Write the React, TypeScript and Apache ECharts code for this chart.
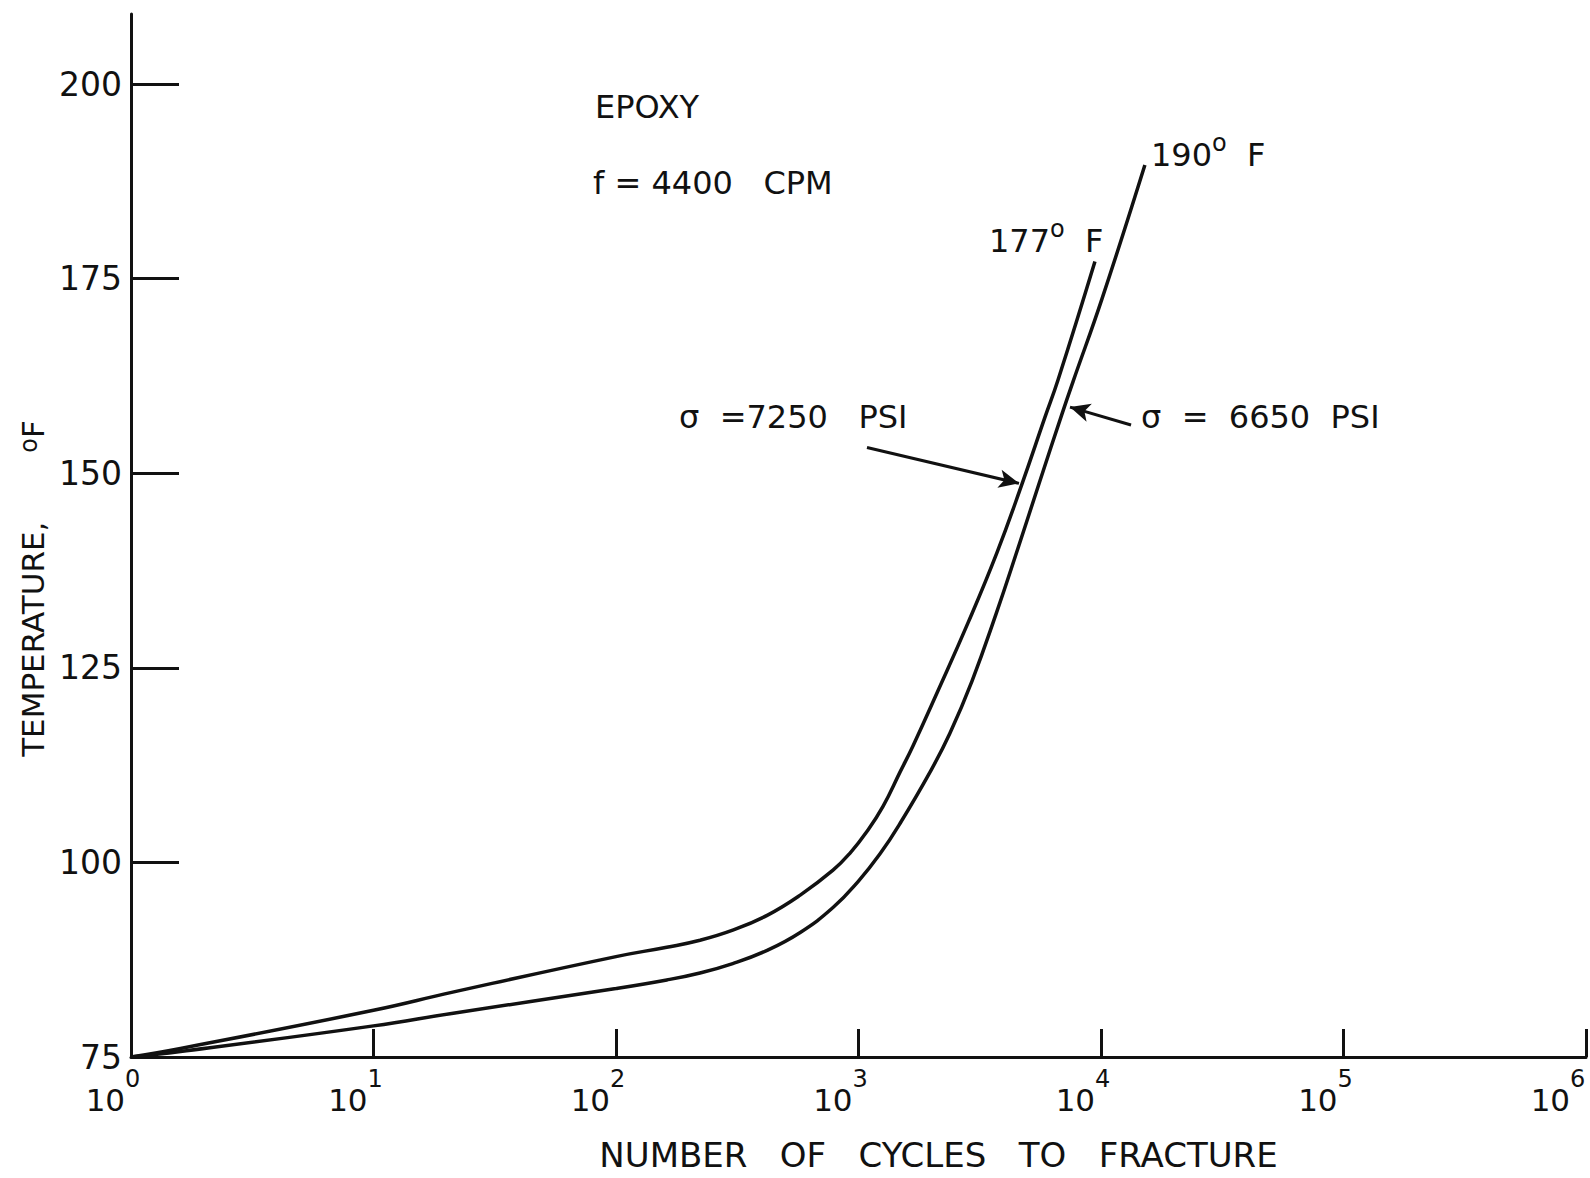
import React, { useEffect, useRef } from "react";
import * as echarts from "echarts";

// Upper curve: sigma = 7250 PSI (fractures at 177 F)
const cycles7250 = [1, 1.6, 10, 21, 100, 162, 222, 303, 420, 575, 785, 923, 1085, 1262, 1483, 1679, 2109, 2831, 3724, 4721, 5875, 6653, 9441];
const temp7250 = [75, 76.1, 81.0, 83.3, 87.9, 89.1, 90.0, 91.3, 93.2, 95.8, 99.0, 101.2, 104.0, 107.2, 111.6, 115.0, 121.8, 130.8, 139.8, 148.6, 157.2, 162.0, 177.2];

// Lower curve: sigma = 6650 PSI (fractures at 190 F)
const cycles6650 = [1, 1.6, 10, 21, 100, 162, 222, 303, 420, 575, 785, 1000, 1227, 1483, 1972, 2382, 2938, 3690, 4550, 5598, 6902, 7674, 10093, 15170];
const temp6650 = [75, 75.7, 79.0, 80.6, 83.8, 84.9, 85.8, 87.0, 88.7, 91.0, 94.2, 97.6, 101.1, 105.0, 111.6, 116.6, 123.3, 131.9, 140.4, 149.0, 157.6, 161.8, 172.4, 189.6];

const yTicks = [75, 100, 125, 150, 175, 200];
const xTicks = [1, 10, 100, 1000, 10000, 100000, 1000000];

// Annotation arrows [cycles, temperature] start -> end
const arrow7250 = [[1084, 153.3], [4590, 148.7]];
const arrow6650 = [[13300, 156.2], [7450, 158.5]];

const FONT = "DejaVu Sans";
const INK = "#111111";

export default function App() {
  const ref = useRef<HTMLDivElement>(null);
  useEffect(() => {
    if (!ref.current) return;
    const chart = echarts.init(ref.current, null, { renderer: "svg" });
    const toPairs = (xs: number[], ys: number[]) => xs.map((x, i) => [x, ys[i]]);
    const degRich = (size: number) => ({
      n: { fontFamily: FONT, fontSize: size, fill: INK, lineHeight: 40, verticalAlign: "bottom" as const },
      d: { fontFamily: FONT, fontSize: 24, fill: INK, lineHeight: 24, verticalAlign: "top" as const },
    });
    chart.setOption({
      animation: false,
      backgroundColor: "#ffffff",
      grid: { left: 131, top: 14, width: 1455, height: 1043, containLabel: false, outerBoundsMode: "none" },
      xAxis: {
        type: "log",
        logBase: 10,
        min: 1,
        max: 1000000,
        name: "NUMBER   OF   CYCLES   TO   FRACTURE",
        nameLocation: "middle",
        nameGap: 81,
        nameTextStyle: { fontFamily: FONT, fontSize: 34, color: INK, padding: [0, 0, 0, 160] },
        axisLine: { show: true, lineStyle: { color: INK, width: 3 } },
        axisTick: { show: true, inside: true, length: 28, lineStyle: { color: INK, width: 3 }, customValues: xTicks },
        minorTick: { show: false },
        splitLine: { show: false },
        axisLabel: {
          margin: 10,
          customValues: xTicks,
          formatter: (v: number) =>
            "{b|10}{s|" + Math.round(Math.log10(v)) + "}" + (v >= 1000000 ? "{q|}" : "{p|}"),
          rich: {
            b: { fontFamily: FONT, fontSize: 31, color: INK, lineHeight: 31, verticalAlign: "bottom" },
            s: { fontFamily: FONT, fontSize: 24, color: INK, lineHeight: 24, verticalAlign: "top" },
            p: { width: 36, height: 48, lineHeight: 48 },
            q: { width: 56, height: 48, lineHeight: 48 },
          },
        },
      },
      yAxis: {
        type: "value",
        min: 75,
        max: 209,
        interval: 25,
        name: "TEMPERATURE,       {d|o}F",
        nameLocation: "middle",
        nameRotate: 90,
        nameGap: 80,
        nameTextStyle: {
          fontFamily: FONT,
          fontSize: 31,
          color: INK,
          padding: [0, 106, 0, 0],
          rich: { d: { fontFamily: FONT, fontSize: 24, color: INK, verticalAlign: "top" } },
        },
        axisLine: { show: true, lineStyle: { color: INK, width: 3 } },
        axisTick: { show: true, inside: true, length: 48, lineStyle: { color: INK, width: 3 }, customValues: yTicks },
        splitLine: { show: false },
        axisLabel: { margin: 9, customValues: yTicks, fontFamily: FONT, fontSize: 33, color: INK },
      },
      series: [
        {
          name: "σ = 7250 PSI",
          type: "line",
          data: toPairs(cycles7250, temp7250),
          smooth: 0.45,
          showSymbol: false,
          lineStyle: { color: INK, width: 3.5 },
          markLine: {
            silent: true,
            symbol: ["none", "arrow"],
            symbolSize: [14, 20],
            label: { show: false },
            lineStyle: { color: INK, width: 3, type: "solid" },
            data: [
              [{ coord: arrow7250[0] }, { coord: arrow7250[1] }],
              [{ coord: arrow6650[0] }, { coord: arrow6650[1] }],
            ],
          },
        },
        {
          name: "σ = 6650 PSI",
          type: "line",
          data: toPairs(cycles6650, temp6650),
          smooth: 0.45,
          showSymbol: false,
          lineStyle: { color: INK, width: 3.5 },
        },
      ],
      graphic: [
        { type: "text", x: 595, y: 107, style: { text: "EPOXY", fontFamily: FONT, fontSize: 32, fill: INK, verticalAlign: "middle" } },
        { type: "text", x: 593, y: 183, style: { text: "f = 4400   CPM", fontFamily: FONT, fontSize: 32, fill: INK, verticalAlign: "middle" } },
        { type: "text", x: 989, y: 217, style: { text: "{n|177}{d|o}{n|  F}", verticalAlign: "top", rich: degRich(32) } },
        { type: "text", x: 1151, y: 131, style: { text: "{n|190}{d|o}{n|  F}", verticalAlign: "top", rich: degRich(32) } },
        { type: "text", x: 679, y: 417, style: { text: "σ  =7250   PSI", fontFamily: FONT, fontSize: 32, fill: INK, verticalAlign: "middle" } },
        { type: "text", x: 1141, y: 417, style: { text: "σ  =  6650  PSI", fontFamily: FONT, fontSize: 32, fill: INK, verticalAlign: "middle" } },
      ],
    });
    return () => chart.dispose();
  }, []);
  return <div ref={ref} style={{ position: "absolute", left: 0, top: 0, width: 1590, height: 1178, background: "#fff" }} />;
}
